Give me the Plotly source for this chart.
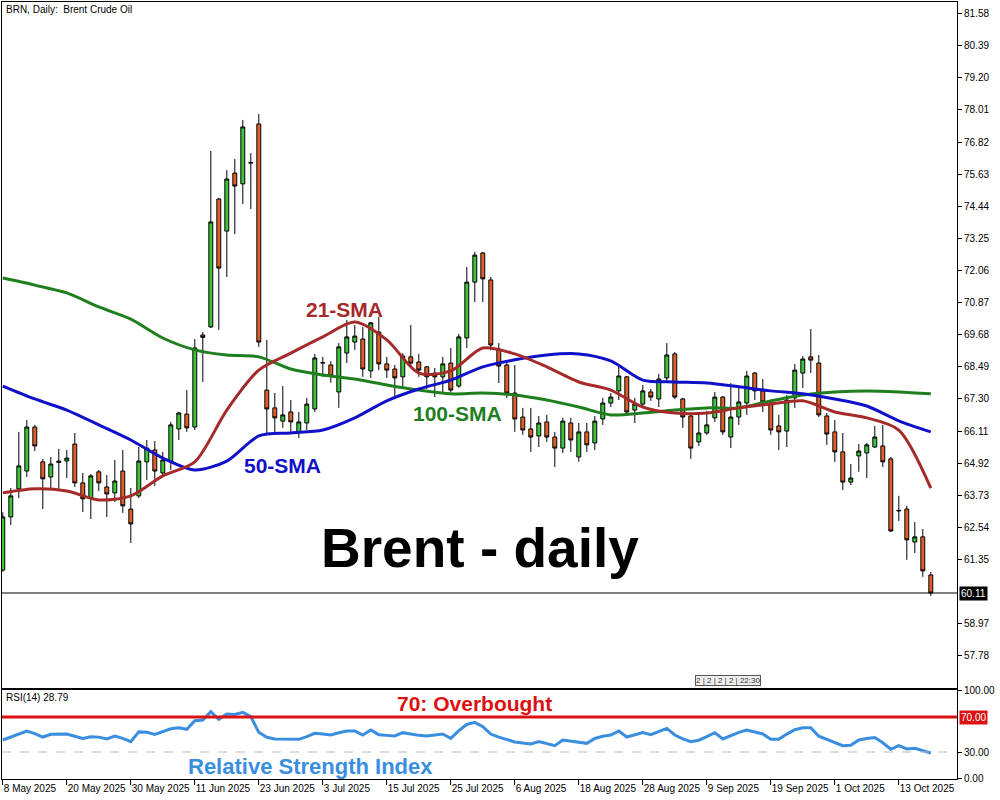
import pandas as pd
import plotly.graph_objects as go

# ---------------- data ----------------
dates = pd.bdate_range("2025-05-08", "2025-10-17")

opens = [60.96, 62.93, 63.97, 64.63, 66.26, 64.97, 64.41, 65.00, 65.00, 65.63,
         64.19, 63.63, 64.60, 64.04, 63.82, 64.63, 63.22, 63.71, 64.97, 65.41,
         64.56, 64.97, 66.19, 66.74, 66.26, 69.67, 69.97, 74.71, 73.52, 75.67,
         75.27, 76.04, 77.49, 67.63, 66.97, 66.48, 66.82, 66.08, 66.41, 66.93,
         68.63, 68.56, 67.56, 69.00, 69.41, 69.52, 68.34, 69.78, 68.60, 68.41,
         68.12, 68.86, 68.67, 68.49, 68.26, 68.12, 68.63, 67.78, 69.56, 71.63,
         72.71, 71.71, 69.15, 68.56, 67.52, 66.63, 66.19, 65.93, 66.45, 65.89,
         65.48, 66.41, 65.15, 66.08, 65.67, 66.56, 67.15, 67.60, 68.12, 66.89,
         67.11, 67.56, 67.30, 68.08, 68.97, 67.30, 66.67, 65.71, 66.04, 66.60,
         67.37, 65.89, 66.63, 67.15, 68.26, 67.60, 67.15, 66.30, 66.11, 67.34,
         68.26, 68.86, 68.63, 66.67, 66.08, 65.34, 64.22, 65.19, 65.30, 65.52,
         65.56, 65.08, 63.15, 63.22, 62.00, 62.19, 60.78]
highs = [63.10, 64.00, 66.08, 66.52, 66.34, 65.08, 65.15, 65.45, 65.41, 66.04,
         64.56, 64.52, 64.67, 64.48, 65.04, 65.41, 64.00, 65.52, 65.78, 65.74,
         65.34, 66.45, 66.82, 67.63, 69.52, 69.78, 76.49, 74.75, 75.78, 76.19,
         77.64, 76.41, 77.86, 69.49, 67.52, 67.78, 67.26, 66.82, 67.34, 68.97,
         68.86, 68.70, 69.37, 70.23, 70.04, 69.97, 70.15, 70.34, 68.86, 68.56,
         69.00, 70.04, 68.97, 68.52, 68.45, 68.86, 69.19, 69.71, 72.19, 72.75,
         72.75, 71.82, 69.37, 68.67, 68.56, 66.97, 66.97, 66.67, 66.71, 66.08,
         66.60, 66.60, 66.41, 66.41, 66.67, 67.34, 67.52, 68.52, 68.15, 67.34,
         67.82, 67.67, 68.23, 69.37, 69.04, 67.34, 66.74, 66.82, 66.86, 67.56,
         67.41, 67.89, 67.78, 68.34, 68.30, 68.04, 67.26, 66.71, 67.45, 68.60,
         68.89, 69.89, 68.93, 66.78, 66.52, 66.04, 64.89, 65.63, 65.67, 66.30,
         66.34, 65.15, 63.71, 63.34, 62.74, 62.48, 60.89]
lows = [60.90, 62.63, 63.63, 64.41, 65.37, 63.22, 63.97, 63.97, 64.37, 64.04,
        63.11, 62.85, 63.89, 62.93, 63.48, 63.08, 61.96, 63.63, 64.30, 64.08,
        64.48, 64.67, 65.78, 66.08, 66.15, 67.93, 69.93, 69.86, 71.82, 73.41,
        74.52, 74.34, 69.23, 66.04, 66.04, 66.23, 66.08, 65.86, 66.15, 66.82,
        68.12, 67.90, 66.97, 68.63, 69.12, 68.12, 68.08, 68.37, 68.08, 67.37,
        67.71, 68.45, 68.12, 67.67, 67.37, 67.56, 67.56, 67.71, 69.19, 70.89,
        70.89, 69.10, 67.89, 67.34, 66.08, 65.97, 65.34, 65.52, 65.71, 64.78,
        65.30, 65.34, 64.97, 65.34, 65.41, 66.34, 67.00, 67.26, 66.67, 66.41,
        66.97, 67.23, 67.00, 67.93, 67.30, 66.23, 65.08, 65.56, 65.97, 66.45,
        65.97, 65.48, 66.34, 66.71, 67.26, 66.82, 65.97, 65.41, 65.52, 66.97,
        67.71, 68.26, 66.63, 65.60, 64.97, 63.93, 64.11, 64.60, 64.37, 65.48,
        64.78, 62.37, 62.78, 61.34, 61.59, 60.71, 60.00]
closes = [62.93, 63.71, 64.82, 66.26, 65.56, 64.34, 64.89, 64.95, 65.11, 64.19,
          63.60, 64.45, 64.19, 63.78, 64.26, 63.34, 62.67, 65.00, 65.48, 64.63,
          65.04, 66.34, 66.78, 66.23, 69.19, 69.58, 73.86, 72.15, 75.45, 75.19,
          77.38, 76.06, 69.41, 66.93, 66.60, 66.71, 66.45, 66.45, 67.11, 68.82,
          68.65, 68.15, 69.23, 69.60, 69.63, 68.41, 70.12, 68.60, 68.37, 68.08,
          68.89, 68.63, 68.37, 68.12, 68.12, 68.60, 67.63, 69.60, 71.63, 72.63,
          71.75, 69.30, 68.52, 67.52, 66.56, 66.15, 65.89, 66.41, 65.89, 65.48,
          66.48, 65.78, 66.08, 65.60, 66.48, 67.15, 67.37, 68.15, 66.82, 67.11,
          67.60, 67.37, 68.04, 68.93, 67.37, 66.63, 65.48, 66.04, 66.34, 67.37,
          66.08, 66.63, 67.19, 68.15, 67.60, 67.19, 66.15, 66.08, 67.26, 68.37,
          68.78, 68.74, 66.71, 66.00, 65.34, 64.22, 64.37, 65.37, 65.60, 65.89,
          64.97, 62.41, 63.17, 62.08, 62.19, 60.93, 60.11]

# moving averages read every 4th bar
sma_idx = list(range(0, 117, 4))
sma21 = [63.82, 63.97, 63.89, 63.56, 63.71, 64.45, 64.97, 66.89, 68.37, 69.00,
         69.60, 70.15, 69.49, 68.26, 68.34, 69.19, 68.97, 68.49, 67.93, 67.63,
         67.00, 66.78, 66.78, 66.97, 67.11, 67.23, 66.82, 66.60, 66.15, 64.00]
sma50 = [67.78, 67.30, 66.89, 66.34, 65.78, 65.11, 64.67, 65.00, 65.93, 66.04,
         66.15, 66.60, 67.23, 67.67, 68.00, 68.49, 68.75, 68.93, 68.97, 68.71,
         68.00, 67.93, 67.89, 67.75, 67.60, 67.49, 67.30, 67.04, 66.49, 66.08]
sma100 = [71.78, 71.52, 71.23, 70.71, 70.26, 69.56, 69.12, 68.93, 68.86, 68.41,
          68.19, 68.04, 67.82, 67.63, 67.49, 67.52, 67.45, 67.26, 67.00, 66.71,
          66.78, 66.89, 66.97, 66.97, 67.23, 67.45, 67.56, 67.60, 67.56, 67.49]

rsi = [43.7, 47.0, 51.0, 54.0, 51.0, 47.1, 50.2, 50.6, 50.6, 48.0,
       45.6, 47.5, 47.0, 44.9, 48.3, 45.5, 41.8, 53.0, 52.5, 50.2,
       53.0, 56.5, 57.8, 55.9, 65.8, 66.6, 76.1, 67.3, 73.4, 73.0,
       75.3, 70.5, 52.5, 46.8, 44.8, 44.5, 44.5, 44.5, 47.5, 51.3,
       50.5, 49.4, 52.0, 54.0, 54.0, 49.4, 55.1, 49.8, 49.0, 48.3,
       52.1, 50.5, 49.0, 48.3, 49.5, 50.6, 45.6, 54.5, 61.5, 63.9,
       58.9, 50.5, 47.0, 44.5, 41.5, 40.2, 39.1, 41.8, 39.5, 37.2,
       43.7, 42.5, 41.5, 39.9, 45.5, 48.0, 49.4, 54.0, 47.1, 49.6,
       52.1, 49.8, 53.5, 57.0, 49.4, 45.0, 41.8, 43.5, 47.5, 52.1,
       44.9, 48.5, 52.5, 55.1, 53.0, 50.6, 44.5, 44.5, 50.5, 55.5,
       57.8, 57.8, 48.0, 44.5, 41.5, 37.2, 37.6, 43.7, 45.5, 46.5,
       40.5, 33.1, 37.2, 33.5, 34.2, 31.6, 28.79]

price_ticks = [57.78, 58.97, 61.35, 62.54, 63.73, 64.92, 66.11, 67.30, 68.49,
               69.68, 70.87, 72.06, 73.25, 74.44, 75.63, 76.82, 78.01, 79.20,
               80.39, 81.58]
rsi_ticks = [0, 30, 100]
rsi_levels = [30, 70]

# ---------------- figure ----------------
xi = list(range(len(dates)))
tick_pos = xi[::8]
tick_text = [f"{d.day} {d.strftime('%b %Y')}" for d in dates[::8]]

FONT = "Liberation Sans, Arial, sans-serif"
UP = "#3CC83C"
DN = "#E0602A"
C21 = "#A52A2A"
C50 = "#1010C8"
C100 = "#1F7F1F"
CRSI = "#3A8EE0"
CRED = "#DD1111"

fig = go.Figure()
fig.add_trace(go.Candlestick(
    x=xi, open=opens, high=highs, low=lows, close=closes,
    xaxis="x2", yaxis="y2",
    increasing=dict(fillcolor=UP, line=dict(color="black", width=1)),
    decreasing=dict(fillcolor=DN, line=dict(color="black", width=1)),
    whiskerwidth=0, hoverinfo="skip", showlegend=False))
fig.add_trace(go.Scatter(x=sma_idx, y=sma100, mode="lines", xaxis="x2", yaxis="y2",
                         line=dict(color=C100, width=3, shape="spline", smoothing=0.8),
                         showlegend=False, hoverinfo="skip"))
fig.add_trace(go.Scatter(x=sma_idx, y=sma50, mode="lines", xaxis="x2", yaxis="y2",
                         line=dict(color=C50, width=3, shape="spline", smoothing=0.8),
                         showlegend=False, hoverinfo="skip"))
fig.add_trace(go.Scatter(x=sma_idx, y=sma21, mode="lines", xaxis="x2", yaxis="y2",
                         line=dict(color=C21, width=3, shape="spline", smoothing=0.8),
                         showlegend=False, hoverinfo="skip"))
fig.add_trace(go.Scatter(x=xi, y=rsi, mode="lines", xaxis="x", yaxis="y",
                         line=dict(color=CRSI, width=3),
                         showlegend=False, hoverinfo="skip"))

xr = [-0.1, -0.1 + 955 / 8]
fig.update_layout(
    width=1000, height=800,
    margin=dict(l=2, r=43, t=2, b=21, autoexpand=False),
    paper_bgcolor="white", plot_bgcolor="white",
    font=dict(family=FONT, size=10, color="black"),
    xaxis=dict(domain=[0, 1], anchor="y", range=xr, tickvals=tick_pos, ticktext=tick_text,
               ticks="outside", ticklen=5, tickcolor="black", ticklabelposition="outside right",
               tickangle=0, automargin=False,
               showline=True, mirror=True, linecolor="black", linewidth=1,
               showgrid=False, zeroline=False, rangeslider=dict(visible=False),
               tickfont=dict(family=FONT, size=10)),
    yaxis=dict(domain=[0, 89 / 777], anchor="x", range=[-0.86, 100.86], side="right",
               tickvals=rsi_ticks, ticktext=[f"{v:.2f}" for v in rsi_ticks],
               ticks="outside", ticklen=4, tickcolor="black", automargin=False,
               showline=True, mirror=True, linecolor="black", linewidth=1,
               showgrid=False, zeroline=False, tickfont=dict(family=FONT, size=10)),
    xaxis2=dict(domain=[0, 1], anchor="y2", matches="x", range=xr, showticklabels=False,
                ticks="", automargin=False, showline=True, mirror=True, linecolor="black",
                linewidth=1, showgrid=False, zeroline=False, rangeslider=dict(visible=False)),
    yaxis2=dict(domain=[91 / 777, 1], anchor="x2", range=[56.59, 82.01], side="right",
                tickvals=price_ticks, ticktext=[f"{v:.2f}" for v in price_ticks],
                ticks="outside", ticklen=4, tickcolor="black", automargin=False,
                showline=True, mirror=True, linecolor="black", linewidth=1,
                showgrid=False, zeroline=False, tickfont=dict(family=FONT, size=10)),
)

# level lines
fig.add_shape(type="line", xref="x domain", yref="y", x0=0, x1=1, y0=rsi_levels[0], y1=rsi_levels[0],
              line=dict(color="#BBBBBB", width=1, dash="dash"))
fig.add_shape(type="line", xref="x domain", yref="y", x0=0, x1=1, y0=rsi_levels[1], y1=rsi_levels[1],
              line=dict(color=CRED, width=3))
fig.add_shape(type="line", xref="x2 domain", yref="y2", x0=0, x1=1, y0=closes[-1], y1=closes[-1],
              line=dict(color="black", width=1))

ann = []
ann.append(dict(x=0.002, xref="paper", y=81.75, yref="y2", xanchor="left", yanchor="middle",
                text="BRN, Daily:  Brent Crude Oil", showarrow=False, font=dict(size=10)))
ann.append(dict(x=0.002, xref="paper", y=92, yref="y", xanchor="left", yanchor="middle",
                text=f"RSI(14) {rsi[-1]:.2f}", showarrow=False, font=dict(size=10)))
ann.append(dict(x=1, xref="paper", xshift=2, y=closes[-1], yref="y2", xanchor="left",
                yanchor="middle", text=f"{closes[-1]:.2f}", showarrow=False,
                bgcolor="black", font=dict(color="white", size=10), borderpad=1))
ann.append(dict(x=1, xref="paper", xshift=2, y=rsi_levels[1], yref="y", xanchor="left",
                yanchor="middle", text=f"{rsi_levels[1]:.2f}", showarrow=False,
                bgcolor=CRED, font=dict(color="white", size=10), borderpad=1))
ann.append(dict(x=42.75, xref="x2", y=70.60, yref="y2", text="<b>21-SMA</b>", showarrow=False,
                font=dict(size=21, color=C21)))
ann.append(dict(x=34.9, xref="x2", y=64.85, yref="y2", text="<b>50-SMA</b>", showarrow=False,
                font=dict(size=21, color=C50)))
ann.append(dict(x=56.8, xref="x2", y=66.76, yref="y2", text="<b>100-SMA</b>", showarrow=False,
                font=dict(size=21, color=C100)))
ann.append(dict(x=59.6, xref="x2", y=61.78, yref="y2", text="<b>Brent - daily</b>",
                showarrow=False, font=dict(size=55, color="black")))
ann.append(dict(x=58.9, xref="x", y=85, yref="y", text="<b>70: Overbought</b>",
                showarrow=False, font=dict(size=21, color=CRED)))
ann.append(dict(x=38.4, xref="x", y=12.9, yref="y", text="<b>Relative Strength Index</b>",
                showarrow=False, font=dict(size=22, color=CRSI)))
ann.append(dict(x=90.6, xref="x2", y=56.88, yref="y2", text="2 | 2 | 2 | 2 | 22:30",
                showarrow=False, font=dict(size=8, color="#333333"),
                bordercolor="#555555", borderwidth=1, bgcolor="#EEEEEE", borderpad=0))
fig.update_layout(annotations=ann)

fig.write_html("out.html", config={"displayModeBar": False},
               post_script="document.body.style.margin='0';document.body.style.padding='0';")
